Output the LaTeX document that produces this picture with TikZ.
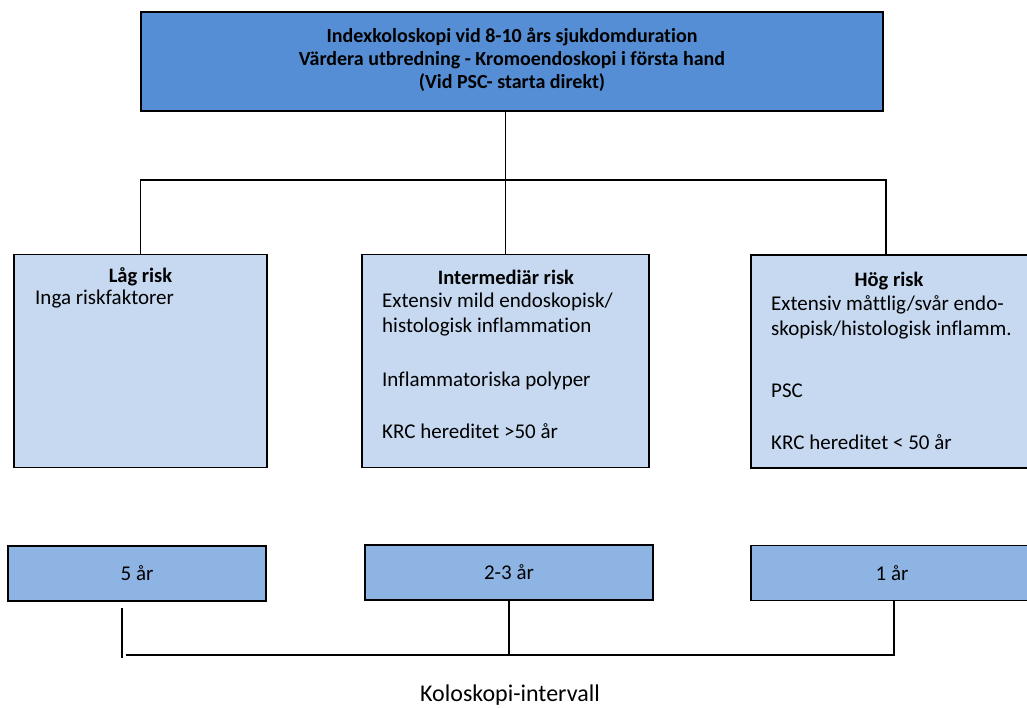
\documentclass[tikz,border=0pt]{standalone}
\usepackage{fontspec}
\setmainfont{Carlito}[Ligatures=NoCommon]
\usetikzlibrary{positioning,calc}
\definecolor{topblue}{RGB}{85,142,213}
\definecolor{riskblue}{RGB}{198,217,241}
\definecolor{intblue}{RGB}{142,180,227}
\tikzset{
  topbox/.style = {draw=black, fill=topblue, line width=1.4pt,
    minimum width=742pt, minimum height=99pt, inner sep=0pt},
  riskbox/.style = {draw=black, fill=riskblue, line width=1.4pt,
    minimum height=213pt, inner sep=0pt},% riskgrupp
  intbox/.style = {draw=black, fill=intblue, line width=1.4pt,
    minimum height=55pt, inner sep=0pt,
    font=\fontsize{21}{24}\selectfont},% intervall
  rubrik/.style = {font=\fontsize{20.5}{23.5}\selectfont\bfseries,
    align=center, inner sep=0pt},
  brodtext/.style = {font=\fontsize{21}{25.5}\selectfont, align=left,
    inner sep=0pt, anchor=base west},
  linje/.style = {line width=1.3pt}
}

\begin{document}
\begin{tikzpicture}[x=1pt,y=-1pt]
\useasboundingbox (0,0) rectangle (1027,708);
% indexkoloskopi
\node [topbox] (index) at (512,61.5) {};
\node [rubrik, font=\fontsize{20}{23.2}\selectfont\bfseries] (indextext) at (512,60)
  {Indexkoloskopi vid 8-10 års sjukdomduration\\
  Värdera utbredning - Kromoendoskopi i första hand\\ (Vid PSC- starta direkt)};
% riskgrupper
\node [riskbox, minimum width=253pt] (lag) at (140.5,361) {};
\node [riskbox, minimum width=287pt] (mellan) at (505.5,361) {};
\node [riskbox, minimum width=282pt] (hog) at (892,361.5) {};
\node [rubrik] (lagrubrik) at (140.5,277) {Låg risk};
\node [rubrik] (mellanrubrik) at (506,277) {Intermediär risk};
\node [rubrik] (hogrubrik) at (889,281) {Hög risk};
\node [brodtext] (lagtext) at (35,304.5) {Inga riskfaktorer};
\node [brodtext] (mellantext) at (382,438.5) {Extensiv mild endoskopisk/\\
  histologisk inflammation\\[28.5pt] Inflammatoriska polyper\\[26.5pt]
  KRC hereditet >50 år};
\node [brodtext] (hogtext) at (771,449.5) {Extensiv måttlig/svår endo-\\
  skopisk/histologisk inflamm.\\[36.5pt] PSC\\[26.5pt]
  KRC hereditet < 50 år};
% grenar
\coordinate (hogin) at (886,255);
\draw [linje] (index.south -| mellan.north) -- (mellan.north);
\draw [linje] (lag.north) -- (lag.north |- 0,180) -| (hogin);
% intervall
\node [intbox, minimum width=258pt] (fem) at (137,573.5) {5 år};
\node [intbox, minimum width=288pt] (tva) at (509,572.5) {2-3 år};
\node [intbox, minimum width=282pt] (ett) at (892,573) {1 år};
\coordinate (vt) at (122,608);
\coordinate (vb) at (122,658);
\coordinate (samlV) at (126,655);
\coordinate (samlH) at (894,655);
\draw [linje] (vt) -- (vb);
\draw [linje] (samlV) -- (samlH) -- (ett.south -| samlH);
\draw [linje] (tva.south) -- (tva.south |- samlH);
\node [font=\fontsize{24}{27}\selectfont, inner sep=0pt] (intervall) at (510,695) {Koloskopi-intervall};
\end{tikzpicture}
\end{document}
